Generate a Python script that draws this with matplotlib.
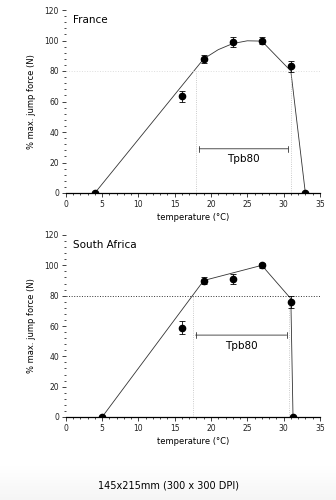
import numpy as np
import matplotlib.pyplot as plt
from matplotlib.ticker import MultipleLocator

# France
fr_temp = [4, 16, 19, 23, 27, 31, 33]
fr_force = [0, 63.5, 88, 99, 100, 83, 0]
fr_err = [0, 3.5, 2.5, 3, 2, 3.5, 0]
fr_fit_x = [4, 19, 21, 23, 25, 27, 31, 33]
fr_fit_y = [0, 88, 94, 98, 99.8, 99.6, 80, 0]
fr_tpb = (18, 31)

# South Africa
sa_temp = [5, 16, 19, 23, 27, 31, 31.3]
sa_force = [0, 59, 90, 91, 100, 76, 0]
sa_err = [0, 4, 2.5, 3.5, 1.5, 4, 0]
sa_fit_x = [5, 19, 27, 31, 31.3]
sa_fit_y = [0, 90, 100, 78, 0]
sa_tpb = (17.5, 30.8)

fig = plt.figure(figsize=(3.36, 5.0), dpi=100)
plt.rcParams['font.family'] = 'DejaVu Sans'


def panel(ax, name, tx, ty, err, fx, fy, tpb, arrow_y, ref_col):
    ax.plot(fx, fy, color='#333333', lw=0.6)
    ax.errorbar(tx, ty, yerr=err, fmt='o', color='black', ms=4.5,
                elinewidth=0.6, capsize=2, capthick=0.6, zorder=3)
    ax.axhline(80, color=ref_col, ls=':', lw=0.7)
    for xv in tpb:
        ax.plot([xv, xv], [0, 80], color='#bbbbbb', ls=':', lw=0.6)
    ax.annotate('', xy=(tpb[0], arrow_y), xytext=(tpb[1], arrow_y),
                arrowprops=dict(arrowstyle='|-|', color='#333333', lw=0.6,
                                mutation_scale=2))
    ax.text(sum(tpb) / 2, arrow_y - 7, 'Tpb80', ha='center', va='center',
            fontsize=7.5)
    ax.text(0.03, 0.97, name, transform=ax.transAxes, ha='left', va='top',
            fontsize=7.5)
    ax.set_xlim(0, 35)
    ax.set_ylim(0, 120)
    ax.xaxis.set_major_locator(MultipleLocator(5))
    ax.xaxis.set_minor_locator(MultipleLocator(1))
    ax.yaxis.set_major_locator(MultipleLocator(20))
    ax.yaxis.set_minor_locator(MultipleLocator(4))
    for s in ['top', 'right', 'left']:
        ax.spines[s].set_visible(False)
    ax.spines['bottom'].set_linewidth(0.9)
    ax.tick_params(which='major', labelsize=5.5, length=3, width=0.6,
                   colors='#222222', pad=2)
    ax.tick_params(which='minor', length=1.5, width=0.5)
    ax.set_xlabel('temperature (°C)', fontsize=6, labelpad=3)
    ax.set_ylabel('% max. jump force (N)', fontsize=6, labelpad=6)


ax1 = fig.add_axes([0.196, 0.614, 0.756, 0.366])
panel(ax1, 'France', fr_temp, fr_force, fr_err, fr_fit_x, fr_fit_y,
      fr_tpb, 29, '#dddddd')

ax2 = fig.add_axes([0.196, 0.166, 0.756, 0.364])
panel(ax2, 'South Africa', sa_temp, sa_force, sa_err, sa_fit_x, sa_fit_y,
      sa_tpb, 54, '#333333')

# faint grey band at the bottom
grad = np.linspace(0, 1, 50).reshape(-1, 1)
bg = fig.add_axes([0, 0, 1, 0.07], zorder=-1)
bg.imshow(grad, aspect='auto', cmap='Greys', vmin=0, vmax=12, extent=[0, 1, 0, 1])
bg.axis('off')

fig.text(0.5, 0.03, '145x215mm (300 x 300 DPI)', ha='center', va='center',
         fontsize=7)

fig.savefig('out.png', dpi=100)
